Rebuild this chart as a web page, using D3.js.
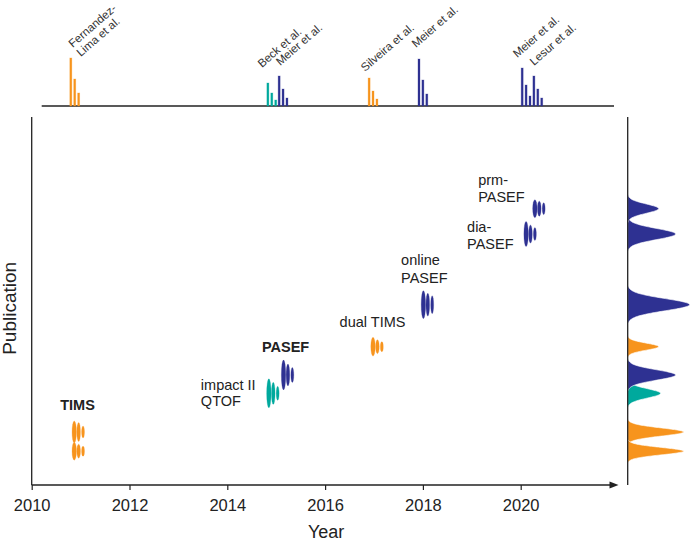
<!DOCTYPE html>
<html>
<head>
<meta charset="utf-8">
<script src="https://cdn.jsdelivr.net/npm/d3@7"></script>
<style>
  body { margin: 0; background: #fff; }
  svg { font-family: "Liberation Sans", Arial, sans-serif; }
</style>
</head>
<body>
<svg id="chart" width="690" height="545"></svg>
<script>
var xTicks = [2010, 2012, 2014, 2016, 2018, 2020];

// publications in the top strip
var pubLabels = [["Fernandez-", "Lima et al."], ["Beck et al."], ["Meier et al."], ["Silveira et al."], ["Meier et al."], ["Meier et al."], ["Lesur et al."]];
var pubYears = [2010.80, 2014.83, 2015.06, 2016.90, 2017.92, 2020.03, 2020.27];
var pubBars = [[48, 27, 13], [23, 13, 6], [30, 17, 8], [28, 15, 7], [47, 26, 12], [38, 21, 10], [30, 17, 8]];
var pubType = ["tims", "qtof", "pasef", "tims", "pasef", "pasef", "pasef"];

// methods in the main panel
var methodLabels = [["TIMS"], [], ["impact II", "QTOF"], ["PASEF"], ["dual TIMS"], ["online", "PASEF"], ["dia-", "PASEF"], ["prm-", "PASEF"]];
var methodYears = [2010.87, 2010.87, 2014.85, 2015.15, 2016.98, 2018.01, 2020.11, 2020.29];
var methodLevels = [14.4, 9.2, 24.9, 29.9, 37.6, 49.0, 68.2, 75.1];
var methodPeaks = [[22, 19, 12], [18, 14, 10], [29, 22, 14], [30, 22, 15], [19, 14, 10], [28, 23, 18], [25, 18, 13], [18, 15, 12]];
var methodType = ["tims", "tims", "qtof", "pasef", "tims", "pasef", "pasef", "pasef"];

// marginal peaks on the right, same order as the methods
var densityAmp = [56, 56, 33, 48, 31, 62, 48, 31];
var densityWidth = [1.1, 1.0, 1.25, 1.4, 0.95, 1.65, 1.5, 1.25];

var colors = { tims: '#F7941D', qtof: '#00A99D', pasef: '#2E3192' };
var ink = '#222';

// label placement (pixels, relative to the mark)
var pubLabelOffset = [[2, -10], [-6, -15], [1, -10], [-4, -6], [-3, -11], [-5, -10], [0, -10]];
var methodLabelOffset = [[-14, -22, 0], null, [-68, -3.5, 16], [-21.6, -23.3, 0], [-33.4, -19.2, 0], [-22.3, -39.5, 18], [-59, -2, 17], [-56.7, -23.5, 16.7]];
var boldLabels = ["TIMS", "PASEF"];

var svg = d3.select('#chart');

var x = d3.scaleLinear().domain([2010, 2022]).range([31.7, 618.5]);
var y = d3.scaleLinear().domain([0, 100]).range([485, 117]);
var barY = d3.scaleLinear().domain([0, 50]).range([106, 56]);
var peakH = d3.scaleLinear().domain([0, 30]).range([0, 30]);
var densX = d3.scaleLinear().domain([0, 62]).range([627.7, 689.7]);

// ---- top strip ----
var strip = svg.append('g');

strip.append('line')
     .attr('x1', 41.7).attr('x2', 614)
     .attr('y1', barY(0)).attr('y2', barY(0))
     .attr('stroke', ink).attr('stroke-width', 1.3);

pubYears.forEach(function(yr, i) {
  var col = colors[pubType[i]];
  strip.selectAll(null)
       .data(pubBars[i])
       .enter()
       .append('rect')
       .attr('x', function(d, j) { return x(yr + j * 0.08) - 1; })
       .attr('y', function(d) { return barY(d); })
       .attr('width', 2)
       .attr('height', function(d) { return barY(0) - barY(d); })
       .attr('fill', col)
       .attr('stroke', col)
       .attr('stroke-opacity', 0.35)
       .attr('stroke-width', 0.8);

  var off = pubLabelOffset[i];
  var t = strip.append('text')
       .attr('transform', 'translate(' + (x(yr) + off[0]) + ',' + (barY(d3.max(pubBars[i])) + off[1]) + ') rotate(-41)')
       .attr('font-size', 11.5)
       .attr('fill', '#333');
  t.selectAll('tspan')
   .data(pubLabels[i])
   .enter()
   .append('tspan')
   .attr('x', 0)
   .attr('dy', function(d, j) { return j ? '1.05em' : 0; })
   .text(function(d) { return d; });
});

// ---- main panel ----
var main = svg.append('g');

main.append('line')
    .attr('x1', x(2010)).attr('x2', x(2010))
    .attr('y1', y(100)).attr('y2', y(0))
    .attr('stroke', ink).attr('stroke-width', 1.3);

var xAxis = d3.axisBottom(x)
              .tickValues(xTicks)
              .tickFormat(d3.format('d'))
              .tickSize(5)
              .tickPadding(9)
              .tickSizeOuter(0);

var ax = main.append('g')
             .attr('transform', 'translate(0,' + y(0) + ')')
             .call(xAxis);
ax.select('.domain').remove();
ax.selectAll('.tick line').attr('stroke', ink).attr('stroke-width', 1.2);
ax.selectAll('.tick text')
  .attr('font-family', '"Liberation Sans", Arial, sans-serif')
  .attr('font-size', 16.5)
  .attr('fill', ink);

ax.append('line')
  .attr('x1', x(2010)).attr('x2', x(2022) - 6)
  .attr('y1', 0).attr('y2', 0)
  .attr('stroke', ink).attr('stroke-width', 1.3);
ax.append('path')
  .attr('d', 'M' + x(2022) + ',0 L' + (x(2022) - 9) + ',-3.5 L' + (x(2022) - 9) + ',3.5 Z')
  .attr('fill', ink);

svg.append('text')
   .attr('x', x(2016) + 1)
   .attr('y', 538)
   .attr('text-anchor', 'middle')
   .attr('font-size', 18)
   .attr('fill', ink)
   .text('Year');

svg.append('text')
   .attr('transform', 'translate(15.5,' + y(48) + ') rotate(-90)')
   .attr('text-anchor', 'middle')
   .attr('font-size', 19)
   .attr('fill', ink)
   .text('Publication');

methodYears.forEach(function(yr, i) {
  var col = colors[methodType[i]];
  var rx = [2.2, 1.8, 1.45];
  main.selectAll(null)
      .data(methodPeaks[i])
      .enter()
      .append('ellipse')
      .attr('cx', function(d, j) { return x(yr + j * 0.09); })
      .attr('cy', y(methodLevels[i]))
      .attr('rx', function(d, j) { return rx[j]; })
      .attr('ry', function(d) { return peakH(d) / 2; })
      .attr('fill', col)
      .attr('stroke', col)
      .attr('stroke-opacity', 0.3)
      .attr('stroke-width', 0.8);

  var off = methodLabelOffset[i];
  if (!off) return;
  var lines = methodLabels[i];
  var bold = boldLabels.indexOf(lines.join(' ')) >= 0;
  var t = main.append('text')
      .attr('font-size', 14.5)
      .attr('font-weight', bold ? 'bold' : 'normal')
      .attr('fill', ink);
  t.selectAll('tspan')
   .data(lines)
   .enter()
   .append('tspan')
   .attr('x', x(yr) + off[0])
   .attr('y', function(d, j) { return y(methodLevels[i]) + off[1] + j * off[2]; })
   .text(function(d) { return d; });
});

// ---- right marginal peaks ----
var side = svg.append('g');

var area = d3.area()
             .y(function(d) { return y(d.level); })
             .x0(densX(0))
             .x1(function(d) { return densX(d.v); })
             .curve(d3.curveBasis);

methodLevels.forEach(function(lv, i) {
  var s = densityWidth[i];
  var pts = d3.range(-3, 3.0001, 0.1).map(function(t) {
    return { level: lv + t * s, v: densityAmp[i] * Math.exp(-0.5 * t * t) };
  });
  side.append('path')
      .datum(pts)
      .attr('d', area)
      .attr('fill', colors[methodType[i]])
      .attr('stroke', '#fff')
      .attr('stroke-width', 0.6);
});

side.append('line')
    .attr('x1', densX(0)).attr('x2', densX(0))
    .attr('y1', y(100)).attr('y2', y(0))
    .attr('stroke', ink).attr('stroke-width', 1.3);
</script>
</body>
</html>
